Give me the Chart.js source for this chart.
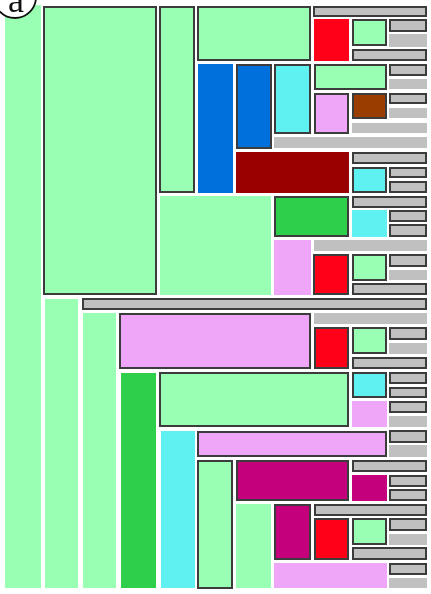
<!DOCTYPE html>
<html>
<head>
<meta charset="utf-8">
<script src="https://cdn.jsdelivr.net/npm/chart.js@4/dist/chart.umd.min.js"></script>
<style>
html,body{margin:0;padding:0;background:#ffffff;}
#wrap{width:431px;height:594px;position:relative;}
</style>
</head>
<body>
<div id="wrap"><canvas id="c" width="431" height="594"></canvas></div>
<script>
// Rectangle extents in data units (x: 0..431, y: 0..594 top-down)
const rectX0 = [5,43,159,197,313,314,352,389,389,352,198,236,274,314,389,389,314,352,389,389,352,274,236,352,352,389,389,160,274,352,352,389,389,274,314,313,352,389,389,352,82,45,83,119,314,314,352,389,389,352,121,159,352,389,389,352,389,389,161,197,389,389,197,236,352,352,389,389,236,274,314,314,352,389,389,352,274,389,389];
const rectY0 = [5,6,6,6,6,19,19,19,34,49,64,64,64,64,64,79,93,93,93,108,123,137,152,152,167,167,181,196,196,196,210,210,224,240,240,254,254,254,270,283,298,299,313,313,313,327,327,327,343,357,373,372,372,372,387,401,401,416,431,431,430,445,460,460,460,475,475,489,504,504,504,518,518,518,534,547,563,563,578];
const rectX1 = [41,157,195,311,427,349,387,427,427,427,233,272,311,387,427,427,349,387,427,427,427,427,349,427,387,427,427,271,349,427,387,427,427,311,427,349,387,427,427,427,427,78,116,311,427,349,387,427,427,427,156,349,387,427,427,387,427,427,195,387,427,427,233,349,427,387,427,427,271,311,427,349,387,427,427,427,387,427,427];
const rectY1 = [588,295,193,61,17,61,46,32,47,61,193,149,134,90,76,89,134,119,104,118,133,148,193,164,193,178,193,295,237,208,237,222,237,295,251,295,281,267,280,295,310,588,588,369,324,369,354,340,354,369,588,427,398,384,398,427,413,427,588,457,443,457,589,501,472,501,487,501,588,560,516,560,545,531,545,560,588,575,588];
// Category of each cell
const rectKind = ['G','G','G','G','Y','R','G','Y','Y','Y','B','B','C','G','Y','Y','P','Br','Y','Y','Y','Y','DR','Y','C','Y','Y','G','DG','Y','C','Y','Y','P','Y','R','G','Y','Y','Y','Y','G','G','P','Y','R','G','Y','Y','Y','DG','G','C','Y','Y','P','Y','Y','C','P','Y','Y','G','M','Y','M','Y','Y','G','M','Y','R','G','Y','Y','Y','P','Y','Y'];
// Whether the cell is outlined (1) or not (0)
const rectOutlined = [0,1,1,1,1,0,1,1,0,1,0,1,1,1,1,0,1,1,1,0,0,0,0,1,1,1,1,0,1,1,0,1,1,0,0,1,1,1,0,1,1,0,0,1,0,1,1,1,0,1,0,1,1,1,1,0,1,0,0,1,1,0,1,1,1,0,1,1,0,1,1,1,1,1,0,1,0,1,0];
const panelLabel = 'a';

const kindColor = {
  G:'#99ffb3', B:'#0070dd', C:'#5ff0f2', R:'#ff0018', P:'#f0a6f8',
  Br:'#993d00', DR:'#990000', DG:'#2ecf4b', M:'#c4007c', Y:'#c0c0c0'
};
const edgeColor = '#3c3c3c';

const centers = rectX0.map((x0,i)=>({x:(x0+rectX1[i])/2, y:(rectY0[i]+rectY1[i])/2}));

const rectPlugin = {
  id:'rects',
  afterDatasetsDraw(chart){
    const {ctx, scales:{x, y}} = chart;
    ctx.save();
    for(let i=0;i<rectX0.length;i++){
      const px0 = x.getPixelForValue(rectX0[i]);
      const px1 = x.getPixelForValue(rectX1[i]);
      const py0 = y.getPixelForValue(rectY0[i]);
      const py1 = y.getPixelForValue(rectY1[i]);
      const l = Math.min(px0,px1), t = Math.min(py0,py1);
      const w = Math.abs(px1-px0), h = Math.abs(py1-py0);
      ctx.fillStyle = kindColor[rectKind[i]];
      ctx.fillRect(l,t,w,h);
      if(rectOutlined[i]){
        ctx.strokeStyle = edgeColor;
        ctx.lineWidth = 2;
        ctx.strokeRect(l+1,t+1,w-2,h-2);
      }
    }
    // panel label
    const cx = x.getPixelForValue(15), cy = y.getPixelForValue(-3);
    ctx.beginPath();
    ctx.arc(cx, cy, 21, 0, Math.PI*2);
    ctx.fillStyle = '#ffffff';
    ctx.fill();
    ctx.lineWidth = 1.8;
    ctx.strokeStyle = '#111111';
    ctx.stroke();
    ctx.fillStyle = '#111111';
    ctx.font = '36px "Liberation Serif", "DejaVu Serif", serif';
    ctx.textAlign = 'center';
    ctx.textBaseline = 'alphabetic';
    ctx.fillText(panelLabel, x.getPixelForValue(16), y.getPixelForValue(12));
    ctx.restore();
  }
};

new Chart(document.getElementById('c'), {
  type:'scatter',
  data:{datasets:[{data:centers, pointRadius:0, pointHoverRadius:0, showLine:false}]},
  options:{
    responsive:false,
    animation:false,
    events:[],
    layout:{padding:0},
    plugins:{legend:{display:false}, tooltip:{enabled:false}, title:{display:false}},
    scales:{
      x:{type:'linear', min:0, max:431, display:false},
      y:{type:'linear', min:0, max:594, reverse:true, display:false}
    }
  },
  plugins:[rectPlugin]
});
</script>
</body>
</html>
